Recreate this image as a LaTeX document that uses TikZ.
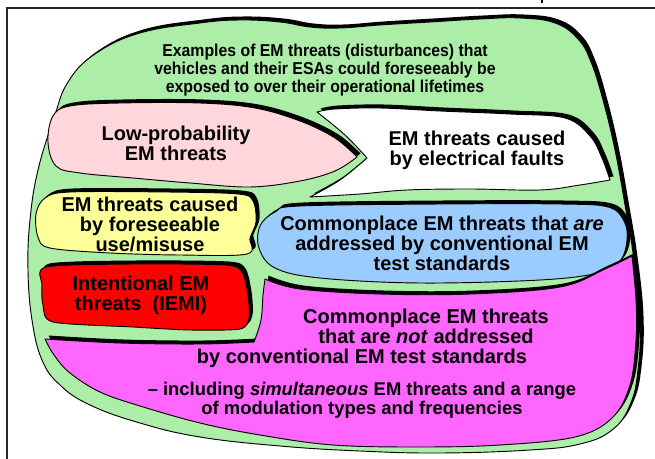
\documentclass[tikz,border=0pt]{standalone}
\usepackage{fontspec}
\setmainfont{Liberation Sans}
\definecolor{leafgreen}{RGB}{172,238,168}
\definecolor{palepink}{RGB}{255,214,220}
\definecolor{paleyellow}{RGB}{255,255,153}
\definecolor{pureRed}{RGB}{255,0,0}
\definecolor{skyblue}{RGB}{155,204,255}
\definecolor{hotpink}{RGB}{255,102,255}
% outlines of the regions (pixel units, y downwards)
\newcommand\greenblob{plot[smooth cycle,tension=0.7] coordinates {(54,118) (68,82) (95,54) (140,33) (200,23) (240,20) (280,22) (310,27) (340,28) (380,25) (430,22) (480,19) (520,18) (555,23) (578,39) (591,62) (603,100) (615,150) (625,205) (634,260) (640,320) (638,370) (630,405) (612,430) (580,444) (530,450) (440,453) (360,451) (280,446) (200,437) (140,423) (90,405) (60,385) (42,360) (32,320) (28,270) (30,220) (38,170)}}
\newcommand\pinkblob{plot[smooth,tension=0.6] coordinates {(357,157) (335,171) (300,181) (250,187) (190,183) (133,178) (80,173) (56,166) (48,142) (53,116) (70,106) (120,103) (200,103) (255,108) (300,121) (335,138) (357,157)} -- cycle}
\newcommand\whiteblob{plot[smooth,tension=0.6] coordinates {(317,112) (335,109) (380,108) (440,111) (510,114) (565,118) (590,136) (602,158) (610,180)} -- plot[smooth,tension=0.6] coordinates {(610,180) (580,185) (540,190) (470,189) (407,190) (360,194) (310,197)} -- plot[smooth,tension=0.6] coordinates {(310,197) (340,180) (367,158)} -- plot[smooth,tension=0.6] coordinates {(367,158) (345,135) (317,112)} -- cycle}
\newcommand\blueblob{plot[smooth cycle,tension=0.6] coordinates {(260,226) (275,212) (300,206) (440,204) (560,204) (608,207) (624,221) (627,240) (620,261) (598,273) (540,280) (420,283) (320,278) (275,268) (259,248)}}
\newcommand\yellowblob{plot[smooth cycle,tension=0.55] coordinates {(45,198) (70,192) (167,192) (238,194) (253,201) (256,222) (250,238) (247,254) (180,255) (110,253) (50,248) (38,237) (36,214)}}
\newcommand\redblob{plot[smooth cycle,tension=0.45] coordinates {(46,267) (133,264) (225,265) (242,272) (248,295) (249,318) (240,329) (190,330) (133,327) (53,322) (43,305) (42,285)}}
\newcommand\magentablob{plot[smooth,tension=0.6] coordinates {(45,339) (120,343) (200,344) (254,342)} -- plot[smooth,tension=0.6] coordinates {(254,342) (261,320) (263,295) (265,279)} -- plot[smooth,tension=0.6] coordinates {(265,279) (300,289) (380,294) (470,294) (560,287) (605,269) (632,256)} -- plot[smooth,tension=0.6] coordinates {(632,256) (636,300) (636,340) (630,385) (612,418) (575,437) (500,445) (420,447) (333,445) (260,435) (200,423) (140,406) (100,392) (70,373) (54,355) (45,339)} -- cycle}
\begin{document}
\begin{tikzpicture}[x=0.75pt,y=-0.75pt,
  region/.style={draw=black,line width=0.7pt,line join=round},
  backshade/.style={fill=black,shift={(3.5,-3.5)}},
  body/.style={font=\fontsize{15}{15}\selectfont\bfseries,align=center,inner sep=0pt},
  headline/.style={font=\fontsize{12.9}{13.5}\selectfont\bfseries,align=center,inner sep=0pt,xscale=0.92,transform shape},
  remark/.style={font=\fontsize{13.8}{12.8}\selectfont\bfseries,align=center,inner sep=0pt}]
\useasboundingbox (0,0) rectangle (655,459);
\fill[white] (0,0) rectangle (655,459);
% frame and clipped glyph at the top edge
\draw[line width=1.5pt,black!85] (7,459) -- (7,8) -- (655,8);
\fill (540.5,0) rectangle (543,3.5);
% outer region
\fill[backshade] \greenblob;
\path[region,fill=leafgreen] \greenblob;
% inner regions
\fill[backshade] \pinkblob;
\path[region,fill=palepink] \pinkblob;
\fill[backshade] \whiteblob;
\path[region,fill=white] \whiteblob;
\fill[backshade] \yellowblob;
\path[region,fill=paleyellow] \yellowblob;
\fill[backshade] \blueblob;
\path[region,fill=skyblue] \blueblob;
\fill[backshade] \redblob;
\path[region,fill=pureRed] \redblob;
\fill[backshade] \magentablob;
\path[region,fill=hotpink] \magentablob;
% labels
\node[headline] (title) at (325,70) {Examples of EM threats (disturbances) that\\vehicles and their ESAs could foreseeably be\\exposed to over their operational lifetimes};
\node[body] (lowprob) at (176,143) {Low-probability\\EM threats};
\node[body] (faults) at (477,150) {EM threats caused\\by electrical faults};
\node[body] (misuse) at (150,224) {EM threats caused\\by foreseeable\\use/misuse};
\node[body] (covered) at (442,243) {Commonplace EM threats that \textit{are}\\addressed by conventional EM\\test standards};
\node[body] (iemi) at (141,295) {Intentional EM\\threats\ \ (IEMI)};
\node[body] (uncovered) at (362,338) {\hspace*{96pt}Commonplace EM threats\\\hspace*{96pt}that are \textit{not} addressed\\by conventional EM test standards};
\node[remark] (including) at (362,400) {\textendash\ including \textit{simultaneous} EM threats and a range\\of modulation types and frequencies};
\end{tikzpicture}
\end{document}
